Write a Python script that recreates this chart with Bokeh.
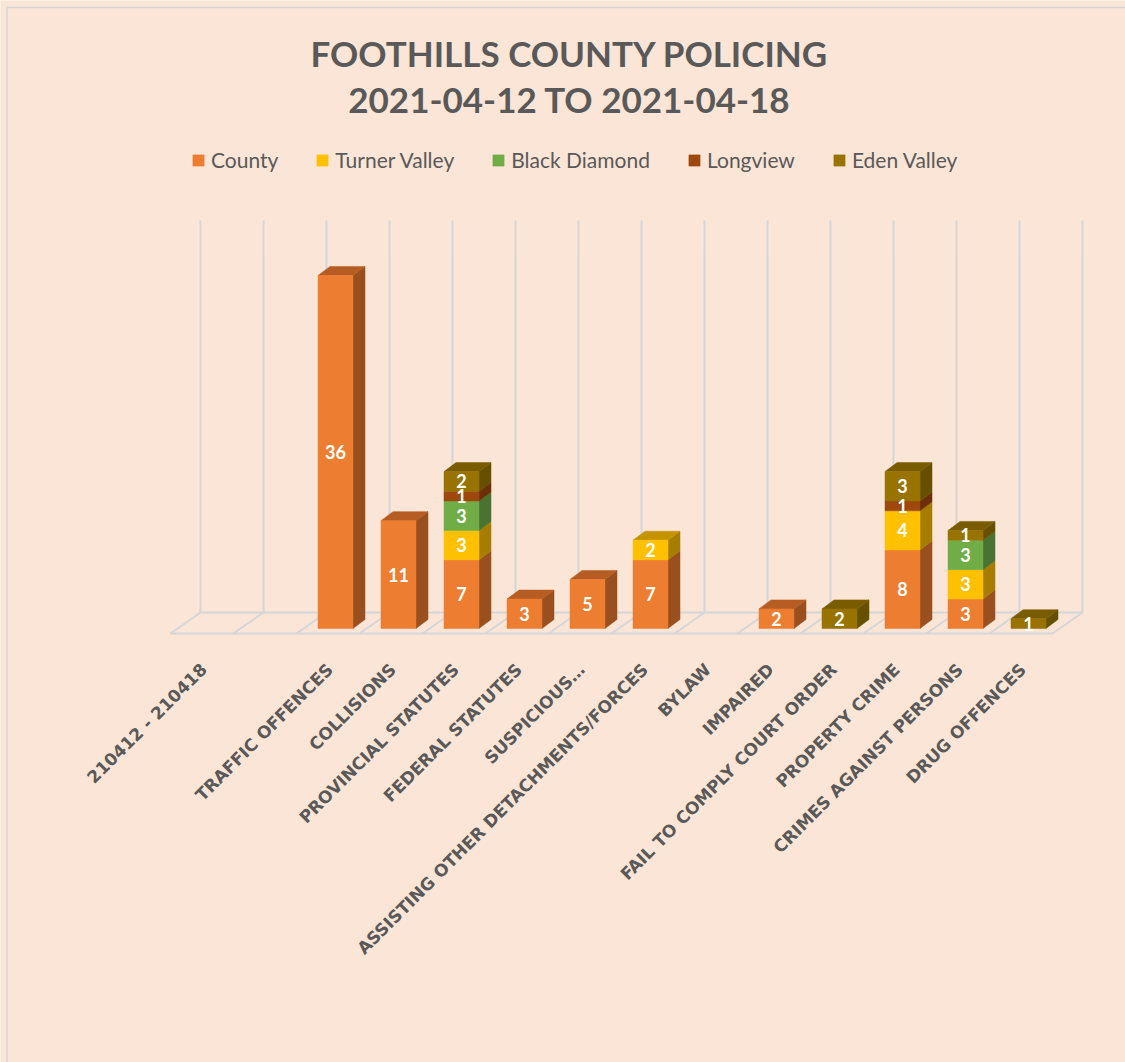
import math
import numpy as np
from bokeh.plotting import figure
from bokeh.models import Range1d, ColumnDataSource, Legend, LegendItem
from bokeh.core.properties import value
from bokeh.embed import file_html
from bokeh.resources import INLINE

# ---------------- data ----------------
TITLE_LINE1 = "FOOTHILLS COUNTY POLICING"
TITLE_LINE2 = "2021-04-12 TO 2021-04-18"

CATEGORIES = [
    "210412 - 210418", "", "TRAFFIC OFFENCES", "COLLISIONS",
    "PROVINCIAL STATUTES", "FEDERAL STATUTES", "SUSPICIOUS…",
    "ASSISTING OTHER DETACHMENTS/FORCES", "BYLAW", "IMPAIRED",
    "FAIL TO COMPLY COURT ORDER", "PROPERTY CRIME",
    "CRIMES AGAINST PERSONS", "DRUG OFFENCES",
]
SERIES = ["County", "Turner Valley", "Black Diamond", "Longview", "Eden Valley"]
COUNTY        = [0, 0, 36, 11, 7, 3, 5, 7, 0, 2, 0, 8, 3, 0]
TURNER_VALLEY = [0, 0, 0, 0, 3, 0, 0, 2, 0, 0, 0, 4, 3, 0]
BLACK_DIAMOND = [0, 0, 0, 0, 3, 0, 0, 0, 0, 0, 0, 0, 3, 0]
LONGVIEW      = [0, 0, 0, 0, 1, 0, 0, 0, 0, 0, 0, 1, 0, 0]
EDEN_VALLEY   = [0, 0, 0, 0, 2, 0, 0, 0, 0, 0, 2, 3, 1, 1]
VALUES = [COUNTY, TURNER_VALLEY, BLACK_DIAMOND, LONGVIEW, EDEN_VALLEY]

# ---------------- style ----------------
FRONT = ["#ED7D31", "#FFC000", "#70AD47", "#9E480E", "#997300"]
SIDE = ["#9A4F1F", "#A67D00", "#4A7230", "#6B3009", "#665000"]
TOP = ["#B65D23", "#C49300", "#5A8C39", "#7F3A0B", "#7A5C00"]
BG = "#FBE5D6"
GRID = "#D4D6D8"
TEXT = "#595959"

W, H = 1125, 1062
X0_PX, CAT_PX = 209.0, 63.0      # pixel of category 0 centre, pixels per category
Y0_PX, UNIT_PX = 628.0, 9.806    # pixel of value 0, pixels per unit


def px2x(px):
    return (px - X0_PX) / CAT_PX


def px2y(py):
    return (Y0_PX - py) / UNIT_PX


BAR_W = 35.0 / CAT_PX
DEPTH_X = 12.0 / CAT_PX
DEPTH_Y = 9.0 / UNIT_PX

p = figure(width=W, height=H, output_backend="svg", toolbar_location=None,
           x_range=Range1d(px2x(0), px2x(W)), y_range=Range1d(px2y(H), px2y(0)),
           x_axis_type=None, y_axis_type=None, min_border=0,
           background_fill_color=BG, border_fill_color=BG, outline_line_color=None)

n = len(CATEGORIES)

# chart border (left/top)
p.line(x=[px2x(6.5), px2x(6.5)], y=[px2y(H + 5), px2y(7)], line_color=GRID, line_width=1.5)
p.line(x=[px2x(6.5), px2x(W + 5)], y=[px2y(7), px2y(7)], line_color=GRID, line_width=1.5)

# grid / floor
back_dx = px2x(200) + 0.5
front_shift = -30.0 / CAT_PX
grid_top = px2y(220)
back_y = px2y(612)
front_y = px2y(633)
gxs, gys = [], []
for k in range(n + 1):
    bx = k - 0.5 + back_dx
    gxs.append([bx, bx, bx + front_shift])
    gys.append([grid_top, back_y, front_y])
gxs.append([-0.5 + back_dx, n - 0.5 + back_dx])
gys.append([back_y, back_y])
gxs.append([-0.5 + back_dx + front_shift, n - 0.5 + back_dx + front_shift])
gys.append([front_y, front_y])
p.multi_line(xs=gxs, ys=gys, line_color=GRID, line_width=2)

# stacked 3D bars
totals = np.sum(np.array(VALUES, dtype=float), axis=0)
bottoms = np.zeros(n)
front_renderers = []
lab_x, lab_y, lab_t = [], [], []
for s, vals in enumerate(VALUES):
    v = np.array(vals, dtype=float)
    idx = np.nonzero(v)[0]
    x = idx.astype(float)
    b = bottoms[idx]
    t = b + v[idx]
    src = ColumnDataSource(dict(left=x - BAR_W / 2, right=x + BAR_W / 2, bottom=b, top=t))
    # side faces
    sx = [[xr, xr + DEPTH_X, xr + DEPTH_X, xr] for xr in x + BAR_W / 2]
    sy = [[bb, bb + DEPTH_Y, tt + DEPTH_Y, tt] for bb, tt in zip(b, t)]
    p.patches(xs=sx, ys=sy, fill_color=SIDE[s], line_color=SIDE[s], line_width=0.5)
    # top faces for topmost segments
    txs, tys = [], []
    for xi, tt, i in zip(x, t, idx):
        if abs(tt - totals[i]) < 1e-9:
            xl, xr = xi - BAR_W / 2, xi + BAR_W / 2
            txs.append([xl, xl + DEPTH_X, xr + DEPTH_X, xr])
            tys.append([tt, tt + DEPTH_Y, tt + DEPTH_Y, tt])
    if txs:
        p.patches(xs=txs, ys=tys, fill_color=TOP[s], line_color=TOP[s], line_width=0.5)
    r = p.quad(left="left", right="right", bottom="bottom", top="top", source=src,
               fill_color=FRONT[s], line_color=FRONT[s], line_width=0.5)
    front_renderers.append(r)
    for xi, bb, tt, vi in zip(x, b, t, v[idx]):
        lab_x.append(xi)
        lab_y.append((bb + tt) / 2)
        lab_t.append(str(int(vi)))
    bottoms = bottoms + v

p.text(x=lab_x, y=lab_y, text=lab_t, text_color="white", text_font=value("Lato"),
       text_font_style="bold", text_font_size="18px", text_align="center",
       text_baseline="middle")

# category labels (rotated)
p.text(x=[i - 0.09 for i in range(n)], y=[px2y(666)] * n, text=CATEGORIES,
       angle=math.pi / 4, text_align="right", text_baseline="middle",
       text_color=TEXT, text_font=value("DejaVu Sans"), text_font_style="bold",
       text_font_size="17px")

# title
p.text(x=[px2x(569), px2x(569)], y=[px2y(52), px2y(98)], text=[TITLE_LINE1, TITLE_LINE2],
       text_align="center", text_baseline="middle", text_color=TEXT,
       text_font=value("Lato"), text_font_style="bold", text_font_size="35px")

legend = Legend(items=[LegendItem(label=name, renderers=[front_renderers[s]])
                       for s, name in enumerate(SERIES)],
                orientation="horizontal", location=(191, 890),
                padding=0, margin=0, spacing=37, label_standoff=6,
                glyph_width=14, glyph_height=14,
                label_text_font="Lato", label_text_font_size="21px",
                label_text_color=TEXT, background_fill_alpha=0,
                border_line_color=None)
p.add_layout(legend, "center")

open("out.html", "w").write(file_html(p, INLINE))
